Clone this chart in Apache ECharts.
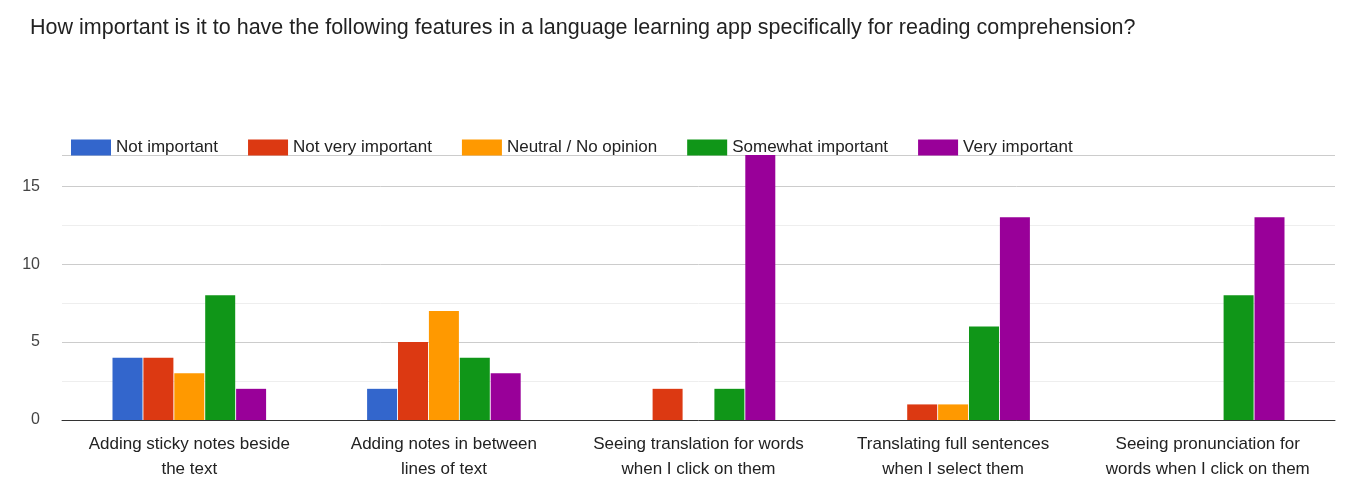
<!DOCTYPE html>
<html><head><meta charset="utf-8">
<script src="https://cdn.jsdelivr.net/npm/echarts@6/dist/echarts.min.js"></script>
<style>html,body{margin:0;padding:0;background:#fff}#c{width:1362px;height:502px}</style>
</head><body><div id="c"></div>
<script>
const categories = ["Adding sticky notes beside\nthe text","Adding notes in between\nlines of text","Seeing translation for words\nwhen I click on them","Translating full sentences\nwhen I select them","Seeing pronunciation for\nwords when I click on them"];
const seriesNames = ["Not important","Not very important","Neutral / No opinion","Somewhat important","Very important"];
const colors = ["#3366cc","#dc3912","#ff9900","#109618","#990099"];
const notImportant = [4,2,0,0,0];
const notVeryImportant = [4,5,2,1,0];
const neutral = [3,7,0,1,0];
const somewhat = [8,4,2,6,8];
const very = [2,3,17,13,13];
const values = [notImportant,notVeryImportant,neutral,somewhat,very];
const F = 'Liberation Sans, Arial, sans-serif';
const chart = echarts.init(document.getElementById('c'));
chart.setOption({
  title:{text:"How important is it to have the following features in a language learning app specifically for reading comprehension?",left:25,top:12,textStyle:{fontFamily:F,fontSize:21.5,fontWeight:'normal',color:'#222'}},
  legend:{left:66,top:134,itemWidth:40,itemHeight:16,itemGap:30,icon:'rect',textStyle:{fontFamily:F,fontSize:17,color:'#222'}},
  grid:{left:62,right:27,top:155,bottom:82},
  xAxis:{type:'category',data:categories,axisTick:{show:false},axisLine:{lineStyle:{color:'#333'}},axisLabel:{interval:0,fontFamily:F,fontSize:17,color:'#222',lineHeight:25,margin:12}},
  yAxis:{type:'value',min:0,max:17,interval:5,axisLabel:{showMaxLabel:false,fontFamily:F,fontSize:16,color:'#444',margin:22},splitLine:{lineStyle:{color:'#ccc'}},minorTick:{show:false,splitNumber:2},minorSplitLine:{show:true,lineStyle:{color:'#eee'}}},
  series: seriesNames.map((n,i)=>({name:n,type:'bar',data:values[i],itemStyle:{color:colors[i]},barWidth:30,barGap:'3%',barCategoryGap:'39%'}))
});
</script></body></html>
